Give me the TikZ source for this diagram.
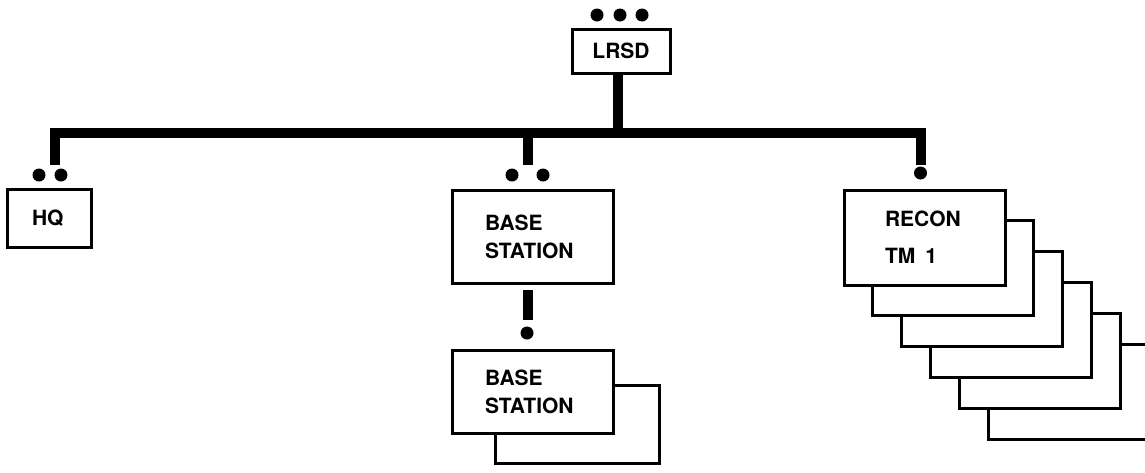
\documentclass[tikz,border=0pt]{standalone}
\usepackage{fontspec}
\setmainfont{TeX Gyre Heros}
\usetikzlibrary{positioning}

\begin{document}
\begin{tikzpicture}[x=1pt, y=-1pt, every node/.style={font=\fontsize{21}{28}\selectfont\bfseries}]
\tikzset{box/.style={draw, line width=3pt, fill=white, inner ysep=0pt}}
\tikzset{bus/.style={line width=10pt, line join=miter}}
\tikzset{dot/.style={circle, fill, inner sep=0pt, minimum size=13pt}}
\useasboundingbox (0,0) rectangle (1145,472);
\clip (0,0) rectangle (1145,472);
% top unit
\node[box, minimum width=98pt, minimum height=44pt] (lrsd) at (621,51) {LRSD};
\foreach \x [count=\i] in {597,620,642}
  \node[dot] (lrsd-d\i) at (\x,15) {};
% headquarters
\node[box, align=left, text width=34pt, inner xsep=25pt, minimum height=58pt] (hq) at (49,218) {HQ};
\node[dot] (hq-d1) at (39,175) {};
\node[dot] (hq-d2) at (61,175) {};
% base stations
\node[box, align=left, text width=95pt, inner xsep=33pt, minimum height=93pt] (base) at (532.5,236.5) {BASE\\STATION};
\node[dot] (base-d1) at (512,175) {};
\node[dot] (base-d2) at (543,175) {};
\node[box, minimum width=164pt, minimum height=78pt] (base2back) at (577,424) {};
\node[box, align=left, text width=95pt, inner xsep=33pt, minimum height=83pt] (base2) at (532.5,391.5) {BASE\\STATION};
\node[dot] (base2-d) at (527,333) {};
% recon teams
\foreach \i in {5,...,1}
  \node[box, minimum width=161pt, minimum height=95pt] (recon\i) at ({924.5+28.8*\i},{237.5+30.8*\i}) {};
\node[box, align=left, text width=79pt, inner xsep=41pt, minimum height=95pt] (recon) at (924.5,237.5) {RECON\\[9pt]TM\hspace{10pt}1};
\node[dot] (recon-d) at (920.5,173) {};
% bus
\coordinate (busline) at (0,133);
\coordinate (lrsd-tap) at (618,73);
\coordinate (hq-tap) at (54.5,165);
\coordinate (base-tap) at (527.5,165);
\coordinate (recon-tap) at (920.5,165);
\coordinate (base-out) at (527.5,290);
\coordinate (base2-tap) at (527.5,320);
\draw[bus] (hq-tap) -- (hq-tap |- busline) -- (recon-tap |- busline) -- (recon-tap);
\draw[bus] (lrsd-tap) -- (lrsd-tap |- busline);
\draw[bus] (base-tap) -- (base-tap |- busline);
\draw[bus] (base-out) -- (base2-tap);
\end{tikzpicture}
\end{document}
